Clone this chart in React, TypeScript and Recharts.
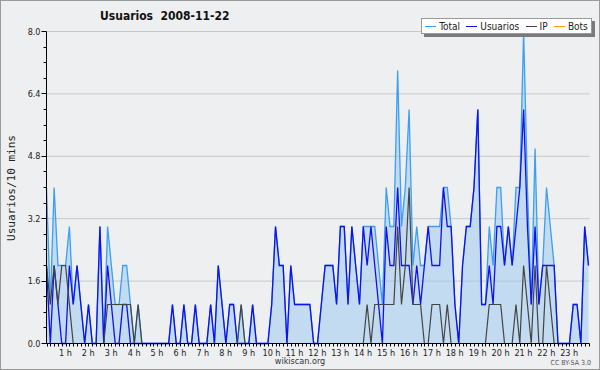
import { Area, CartesianGrid, ComposedChart, Line, XAxis, YAxis } from 'recharts';

// one value per 10 minutes, 00:00 -> 23:40
const usuarios = [
    2, 0, 2, 1, 0, 0, 2, 1, 2, 1,
    0, 1, 0, 0, 3, 0, 2, 1, 0, 0,
    1, 1, 0, 0, 0, 0, 0, 0, 0, 0,
    0, 0, 0, 1, 0, 0, 1, 0, 0, 1,
    0, 0, 0, 1, 0, 2, 1, 0, 1, 1,
    0, 0, 0, 0, 1, 0, 0, 0, 0, 1,
    3, 2, 2, 0, 2, 1, 1, 1, 1, 1,
    0, 0, 1, 2, 2, 2, 1, 3, 3, 1,
    3, 2, 1, 3, 2, 3, 2, 1, 0, 3,
    2, 2, 4, 2, 2, 2, 1, 2, 1, 2,
    3, 2, 2, 2, 4, 3, 3, 1, 0, 2,
    3, 3, 4, 6, 1, 1, 2, 1, 3, 3,
    2, 3, 2, 3, 4, 6, 3, 1, 3, 1,
    2, 2, 2, 2, 0, 0, 0, 0, 1, 1,
    0, 3, 2,
];

const ip = [
    2, 1, 2, 1, 2, 2, 1, 0, 0, 0,
    0, 0, 0, 0, 0, 0, 1, 1, 1, 1,
    1, 1, 1, 0, 1, 0, 0, 0, 0, 0,
    0, 0, 0, 0, 0, 0, 0, 0, 0, 0,
    0, 0, 0, 0, 0, 0, 0, 0, 0, 0,
    0, 1, 0, 0, 0, 0, 0, 0, 0, 0,
    0, 0, 0, 0, 0, 0, 0, 0, 0, 0,
    0, 0, 0, 0, 0, 0, 0, 0, 0, 0,
    0, 0, 0, 0, 1, 0, 1, 1, 1, 1,
    1, 1, 3, 1, 2, 4, 1, 1, 1, 0,
    0, 1, 1, 1, 0, 1, 0, 0, 0, 0,
    0, 0, 0, 0, 0, 0, 1, 1, 1, 1,
    0, 0, 0, 1, 0, 2, 1, 0, 2, 0,
    0, 2, 1, 0, 0, 0, 0, 0, 0, 0,
    0, 0, 0,
];

const total = [
    4, 1, 4, 2, 2, 2, 3, 1, 2, 1,
    0, 1, 0, 0, 3, 0, 3, 2, 1, 1,
    2, 2, 1, 0, 1, 0, 0, 0, 0, 0,
    0, 0, 0, 1, 0, 0, 1, 0, 0, 1,
    0, 0, 0, 1, 0, 2, 1, 0, 1, 1,
    0, 1, 0, 0, 1, 0, 0, 0, 0, 1,
    3, 2, 2, 0, 2, 1, 1, 1, 1, 1,
    0, 0, 1, 2, 2, 2, 1, 3, 3, 1,
    3, 2, 1, 3, 3, 3, 3, 2, 1, 4,
    3, 3, 7, 3, 4, 6, 2, 3, 2, 2,
    3, 3, 3, 3, 4, 4, 3, 1, 0, 2,
    3, 3, 4, 6, 1, 1, 3, 2, 4, 4,
    2, 3, 2, 4, 4, 8, 4, 1, 5, 1,
    2, 4, 3, 2, 0, 0, 0, 0, 1, 1,
    0, 3, 2,
];

const hourLabels = [
    '1 h', '2 h', '3 h', '4 h', '5 h', '6 h', '7 h', '8 h', '9 h', '10 h', '11 h', '12 h',
    '13 h', '14 h', '15 h', '16 h', '17 h', '18 h', '19 h', '20 h', '21 h', '22 h', '23 h',
];

const yMajor = [0, 1.6, 3.2, 4.8, 6.4, 8];
const yLabels = ['0.0', '1.6', '3.2', '4.8', '6.4', '8.0'];

const legendItems = [
    { name: 'Total', color: '#3d9ef2' },
    { name: 'Usuarios', color: '#1010f0' },
    { name: 'IP', color: '#444444' },
    { name: 'Bots', color: '#ff9a1a' },
];

const data = total.map((t, i) => ({ slot: i, total: t, usuarios: usuarios[i], ip: ip[i] }));
const slotTicks = data.map((d) => d.slot);
const yTicks = Array.from({ length: 21 }, (_, k) => Math.round(k * 4) / 10);

const FONT = '"DejaVu Sans Condensed", "DejaVu Sans", sans-serif';

const XTick = ({ x, y, payload }: any) => {
    const v = payload.value;
    const px = Math.round(x) + 0.5;
    const hour = v > 0 && v % 6 === 0 ? hourLabels[v / 6 - 1] : null;
    return (
        <g>
            <line x1={px} x2={px} y1={y} y2={y + 3} stroke="#000" />
            {hour && (
                <text x={x - 4} y={y + 12} textAnchor="middle" fontSize={9} fontFamily={FONT} fill="#222">
                    {hour}
                </text>
            )}
        </g>
    );
};

const YTick = ({ x, y, payload }: any) => {
    const v = payload.value;
    const k = yMajor.findIndex((m) => Math.abs(m - v) < 1e-6);
    const len = k >= 0 ? 5 : 3;
    const py = Math.round(y - 0.5) + 0.5;
    return (
        <g>
            <line x1={x - len} x2={x} y1={py} y2={py} stroke="#000" />
            {k >= 0 && (
                <text x={x - len - 1} y={y + 3} textAnchor="end" fontSize={9} fontFamily={FONT} fill="#222">
                    {yLabels[k]}
                </text>
            )}
        </g>
    );
};

export default function App() {
    return (
        <div style={{ position: 'relative', width: 600, height: 370, background: '#eeeff1', overflow: 'hidden' }}>
            <style>{'body{margin:0}'}</style>
            <ComposedChart
                width={600}
                height={370}
                data={data}
                margin={{ top: 31.5, right: 10.5, bottom: 6.5, left: 0 }}
            >
                <CartesianGrid vertical={false} horizontalValues={[1.6, 3.2, 4.8, 6.4, 8]} stroke="#c8c8c8" />
                <XAxis
                    dataKey="slot"
                    type="number"
                    domain={[0, 142.26]}
                    ticks={slotTicks}
                    interval={0}
                    height={20}
                    tickLine={false}
                    tickSize={0}
                    tickMargin={0}
                    axisLine={{ stroke: '#000' }}
                    tick={<XTick />}
                />
                <YAxis
                    type="number"
                    domain={[0, 8]}
                    ticks={yTicks}
                    interval={0}
                    width={46.5}
                    tickLine={false}
                    tickSize={0}
                    tickMargin={0}
                    axisLine={{ stroke: '#000' }}
                    tick={<YTick />}
                />
                <Area
                    type="linear"
                    dataKey="total"
                    stroke="#3d9ef2"
                    strokeWidth={1.3}
                    fill="#9ecaee"
                    fillOpacity={0.55}
                    dot={false}
                    activeDot={false}
                    isAnimationActive={false}
                />
                <Line
                    type="linear"
                    dataKey="usuarios"
                    stroke="#1010f0"
                    strokeWidth={1.3}
                    dot={false}
                    activeDot={false}
                    isAnimationActive={false}
                />
                <Line
                    type="linear"
                    dataKey="ip"
                    stroke="#444444"
                    strokeWidth={1.2}
                    dot={false}
                    activeDot={false}
                    isAnimationActive={false}
                />
            </ComposedChart>

            {/* title */}
            <div
                style={{
                    position: 'absolute',
                    left: 100,
                    top: 9,
                    fontFamily: FONT,
                    fontWeight: 'bold',
                    fontSize: 12,
                    whiteSpace: 'pre',
                    color: '#111',
                }}
            >
                {'Usuarios  2008-11-22'}
            </div>

            {/* legend */}
            <div
                style={{
                    position: 'absolute',
                    left: 421,
                    top: 18,
                    width: 169,
                    height: 14,
                    background: '#fff',
                    border: '1px solid #999',
                    boxShadow: '3px 3px 0 #7a7a7a',
                    display: 'flex',
                    alignItems: 'center',
                    justifyContent: 'space-around',
                    fontFamily: FONT,
                    fontSize: 10,
                    color: '#222',
                }}
            >
                {legendItems.map((item) => (
                    <div key={item.name} style={{ display: 'flex', alignItems: 'center', gap: 3 }}>
                        <span style={{ display: 'inline-block', width: 11, height: 1, background: item.color }} />
                        <span>{item.name}</span>
                    </div>
                ))}
            </div>

            {/* y axis title */}
            <div
                style={{
                    position: 'absolute',
                    left: 11,
                    top: 188,
                    transform: 'translate(-50%, -50%) rotate(-90deg)',
                    whiteSpace: 'nowrap',
                    fontFamily: '"DejaVu Sans Mono", monospace',
                    fontSize: 11,
                    color: '#222',
                }}
            >
                Usuarios/10 mins
            </div>

            {/* footer */}
            <div
                style={{
                    position: 'absolute',
                    left: 0,
                    width: 600,
                    top: 356,
                    textAlign: 'center',
                    fontFamily: FONT,
                    fontSize: 9,
                    color: '#333',
                }}
            >
                wikiscan.org
            </div>
            <div
                style={{
                    position: 'absolute',
                    right: 9,
                    top: 359,
                    fontFamily: FONT,
                    fontSize: 7,
                    color: '#555',
                }}
            >
                CC BY-SA 3.0
            </div>

            <div
                style={{
                    position: 'absolute',
                    inset: 0,
                    border: '1px solid #9a9a9a',
                    pointerEvents: 'none',
                }}
            />
        </div>
    );
}
